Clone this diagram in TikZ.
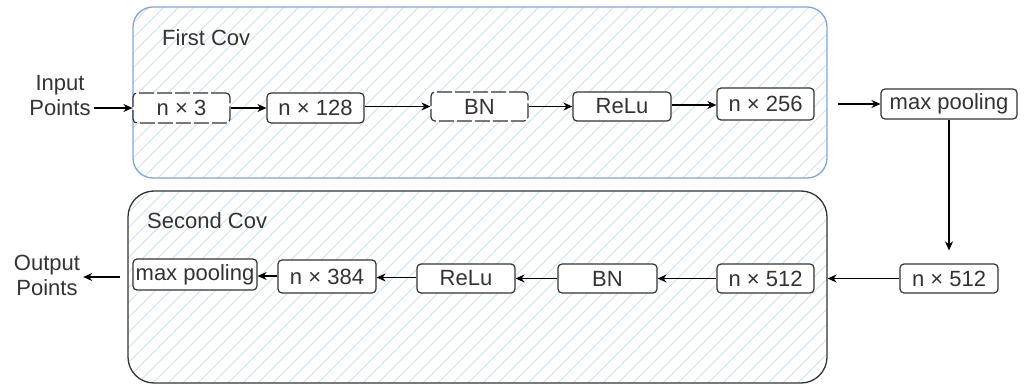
\documentclass[tikz,border=0pt]{standalone}
\usepackage{fontspec}
\setmainfont{Liberation Sans}
\usetikzlibrary{arrows.meta,calc}
\definecolor{hatchc}{HTML}{D0E0F6}
\definecolor{bluec}{HTML}{7EA6E0}
\definecolor{darkc}{HTML}{333333}
\begin{document}
\begin{tikzpicture}[x=1pt,y=-1pt,
  every node/.style={font=\fontsize{22}{25}\selectfont, text=darkc},
  box/.style={draw=darkc, line width=1.2pt, fill=white, rounded corners=4pt, inner sep=0pt},
  dbox/.style={box, dash pattern=on 15pt off 3pt},
  arr/.style={draw=black, line width=1.2pt, -{Stealth[length=9pt,width=8pt]}},
  hatched/.style={path picture={\foreach \i in {0,...,68}{\draw[hatchc, line width=0.8pt] ($(path picture bounding box.south west)+(\i*15pt-230pt,0pt)$) -- ++(430pt,430pt);}}},
  cont/.style={hatched, fill=white, line width=1.3pt, inner sep=0pt}]
\useasboundingbox (0,0) rectangle (1027,385);
% containers
\node[cont, draw=bluec, rounded corners=20pt, minimum width=694pt, minimum height=171pt] (c1) at (480,92.5) {};
\node[cont, draw=darkc, rounded corners=26pt, minimum width=699pt, minimum height=192pt] (c2) at (477.5,287) {};
\node[anchor=west, inner sep=0pt] (t1) at (162,38) {First Cov};
\node[anchor=west, inner sep=0pt] (t2) at (147,221) {Second Cov};
% top row
\node[dbox, minimum width=97pt, minimum height=30pt] (n3) at (181.5,108) {n × 3};
\node[box, minimum width=97pt, minimum height=30pt] (n128) at (315.5,108) {n × 128};
\node[dbox, minimum width=97pt, minimum height=29pt] (bn1) at (479.5,106.5) {BN};
\node[box, minimum width=98pt, minimum height=29pt] (relu1) at (622,106.5) {ReLu};
\node[box, minimum width=97pt, minimum height=32pt] (n256) at (765.5,104) {n × 256};
\node[box, minimum width=136pt, minimum height=30pt] (mp1) at (949,104) {max pooling};
% bottom row
\node[box, minimum width=98pt, minimum height=29pt] (n512o) at (949,278.5) {n × 512};
\node[box, minimum width=97pt, minimum height=29pt] (n512i) at (765.5,278.5) {n × 512};
\node[box, minimum width=99pt, minimum height=29pt] (bn2) at (607.5,278.5) {BN};
\node[box, minimum width=98pt, minimum height=29pt] (relu2) at (466,278.5) {ReLu};
\node[box, minimum width=98pt, minimum height=33pt] (n384) at (327,276.5) {n × 384};
\node[box, minimum width=124pt, minimum height=31pt] (mp2) at (195,274.5) {max pooling};
% outside labels
\node[align=center, inner sep=3pt] (inp) at (60,96) {Input\\Points};
\node[align=center, inner sep=3pt] (outp) at (47,275) {Output\\Points};
\coordinate (ms) at (838,104);
\coordinate (os) at (120,277);
% connectors
\draw[arr] (inp.east |- n3.west) -- (n3.west);
\draw[arr] (n3.east) -- (n128.west);
\draw[arr] (n128.east |- bn1.west) -- (bn1.west);
\draw[arr] (bn1.east) -- (relu1.west);
\draw[arr] (relu1.east |- 0,105) -- (n256.west |- 0,105);
\draw[arr] (ms) -- (mp1.west);
\draw[arr, shorten >=13pt] (mp1.south) -- (n512o.north);
\draw[arr] (n512o.west) -- (c2.east |- n512o.west);
\draw[arr] (n512i.west) -- (bn2.east);
\draw[arr] (bn2.west) -- (relu2.east);
\draw[arr] (relu2.west |- 0,277.5) -- (n384.east |- 0,277.5);
\draw[arr] (n384.west |- 0,276) -- (mp2.east |- 0,276);
\draw[arr] (os) -- (outp.east |- os);
\end{tikzpicture}
\end{document}
